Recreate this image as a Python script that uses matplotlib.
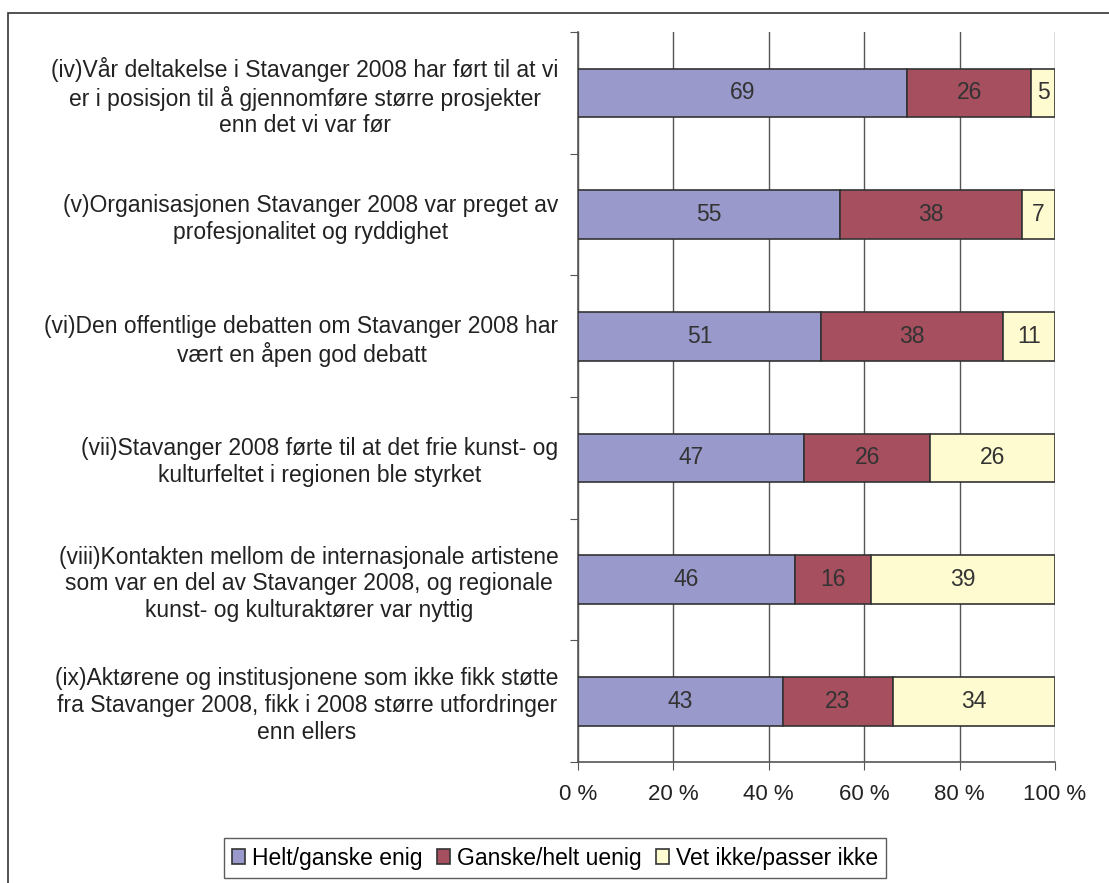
import numpy as np
import matplotlib.pyplot as plt
from matplotlib.patches import Rectangle

plt.rcParams['font.family'] = ['Liberation Sans', 'DejaVu Sans']

labels = [
    "(iv)Vår deltakelse i Stavanger 2008 har ført til at vi\ner i posisjon til å gjennomføre større prosjekter\nenn det vi var før",
    "(v)Organisasjonen Stavanger 2008 var preget av\nprofesjonalitet og ryddighet",
    "(vi)Den offentlige debatten om Stavanger 2008 har\nvært en åpen god debatt",
    "(vii)Stavanger 2008 førte til at det frie kunst- og\nkulturfeltet i regionen ble styrket",
    "(viii)Kontakten mellom de internasjonale artistene\nsom var en del av Stavanger 2008, og regionale\nkunst- og kulturaktører var nyttig",
    "(ix)Aktørene og institusjonene som ikke fikk støtte\nfra Stavanger 2008, fikk i 2008 større utfordringer\nenn ellers",
]
enig = [69, 55, 51, 47, 46, 43]
uenig = [26, 38, 38, 26, 16, 23]
vet_ikke = [5, 7, 11, 26, 39, 34]
series_names = ["Helt/ganske enig", "Ganske/helt uenig", "Vet ikke/passer ikke"]
colors = ["#9999CC", "#A64F5E", "#FFFBD0"]

data = np.array([enig, uenig, vet_ikke], dtype=float)
pct = data / data.sum(axis=0) * 100

fig = plt.figure(figsize=(11.09, 8.83), dpi=100)
ax = fig.add_axes([578/1109, 1 - 762/883, (1055-578)/1109, (762-32)/883])

# outer frame
fig.patches.append(Rectangle((8/1109, -0.01), 1.2, 1 - 13/883 + 0.01, transform=fig.transFigure,
                             fill=False, edgecolor="#333333", linewidth=1.2))

n = len(labels)
y = np.arange(n)
left = np.zeros(n)
for i in range(3):
    ax.barh(y, pct[i], left=left, height=0.4, color=colors[i], edgecolor="#333333",
            linewidth=1.2, label=series_names[i], zorder=3)
    for j in range(n):
        ax.text(left[j] + pct[i][j] / 2, y[j], "%d" % data[i][j], ha="center", va="center",
                fontsize=16.5, color="#333333", zorder=4)
    left += pct[i]

ax.set_xlim(0, 100)
ax.set_ylim(n - 0.5, -0.5)
ax.set_xticks([0, 20, 40, 60, 80, 100])
ax.set_xticklabels(["0 %", "20 %", "40 %", "60 %", "80 %", "100 %"], fontsize=16, color="#222222")
ax.xaxis.grid(True, color="#555555", linewidth=1)
ax.set_axisbelow(True)

ax.set_yticks(np.arange(n + 1) - 0.5)
ax.set_yticklabels([])
ax.set_yticks(y, minor=True)
ax.set_yticklabels(labels, minor=True, fontsize=16.5, color="#222222", ha="right",
                   multialignment="center", linespacing=1.2)
ax.tick_params(axis="y", which="minor", length=0, pad=14)
ax.tick_params(axis="y", which="major", length=6, color="#555555", direction="out")
ax.tick_params(axis="x", length=6, color="#555555", direction="out", pad=10)

for s in ["top", "right"]:
    ax.spines[s].set_visible(False)
ax.spines["left"].set_color("#555555")
ax.spines["bottom"].set_color("#555555")
ax.spines["left"].set_linewidth(1.2)
ax.spines["bottom"].set_linewidth(1.2)

leg = fig.legend(loc="center", bbox_to_anchor=(555/1109, 1 - 858/883), ncol=3, fontsize=16.5,
                 frameon=True, fancybox=False, edgecolor="#333333", handlelength=0.6,
                 handleheight=0.6, handletextpad=0.3, columnspacing=0.6, borderpad=0.35)
leg.get_frame().set_linewidth(1.0)

fig.savefig("out.png", dpi=100)
